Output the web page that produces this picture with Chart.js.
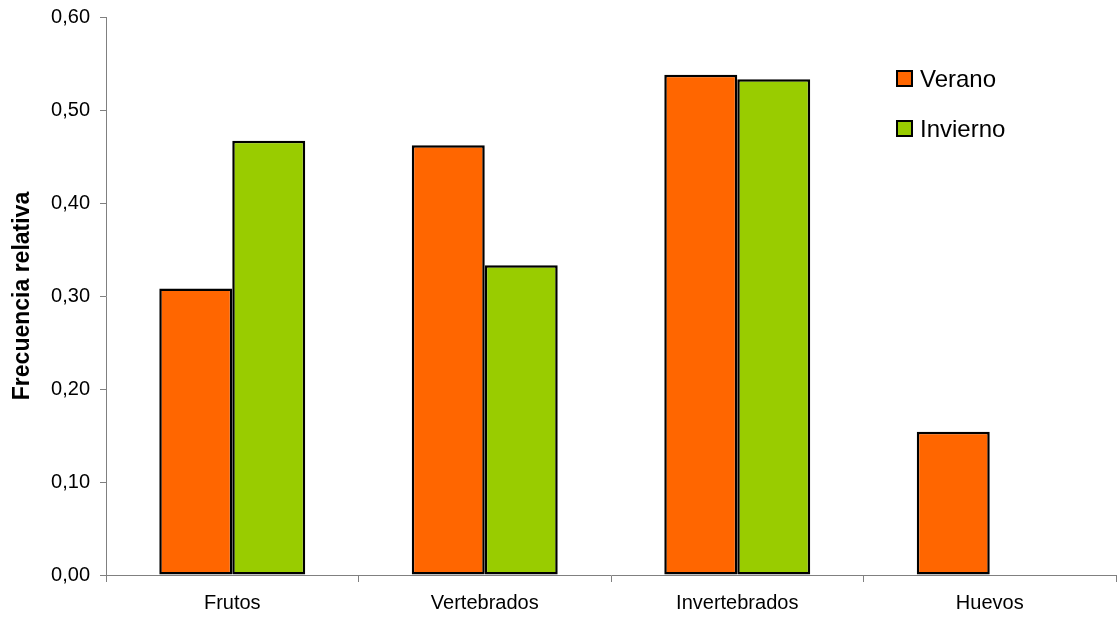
<!DOCTYPE html>
<html>
<head>
<meta charset="utf-8">
<script src="https://cdn.jsdelivr.net/npm/chart.js@4/dist/chart.umd.min.js"></script>
<style>
  html, body { margin: 0; padding: 0; background: #fff; }
  #wrap { position: relative; width: 1117px; height: 618px; }
  #legend { position: absolute; left: 896px; top: 66px; font-family: Arial, "Liberation Sans", sans-serif; font-size: 24px; color: #000; }
  .item { display: flex; align-items: center; height: 25px; margin-bottom: 25px; }
  .box { width: 13px; height: 13px; border: 2px solid #000; margin-right: 7px; }
</style>
</head>
<body>
<div id="wrap">
  <canvas id="c" width="1117" height="618"></canvas>
  <div id="legend"></div>
</div>
<script>
const categories = ['Frutos', 'Vertebrados', 'Invertebrados', 'Huevos'];
const verano = [0.308, 0.462, 0.538, 0.154];
const invierno = [0.467, 0.333, 0.533, null];
const seriesNames = ['Verano', 'Invierno'];
const seriesColors = ['#FF6600', '#99CC00'];

const fmt = v => v.toFixed(2).replace('.', ',');
const axisGrey = '#808080';
const font = 'Arial, "Liberation Sans", sans-serif';

document.getElementById('legend').innerHTML = seriesNames.map((name, i) =>
  `<div class="item"><span class="box" style="background:${seriesColors[i]}"></span>${name}</div>`).join('');

new Chart(document.getElementById('c'), {
  type: 'bar',
  data: {
    labels: categories,
    datasets: [verano, invierno].map((data, i) => ({
      label: seriesNames[i],
      data,
      backgroundColor: seriesColors[i],
      borderColor: '#000',
      borderWidth: 2.5,
      borderSkipped: false,
      categoryPercentage: 0.578,
      barPercentage: 1,
    })),
  },
  options: {
    responsive: false,
    animation: false,
    layout: { padding: { top: 14, right: 1, left: 0, bottom: 0 } },
    plugins: { legend: { display: false }, tooltip: { enabled: false } },
    scales: {
      x: {
        grid: { drawOnChartArea: false, drawTicks: true, tickLength: 7, color: axisGrey },
        border: { color: axisGrey, width: 1 },
        ticks: { color: '#000', font: { family: font, size: 20 }, padding: 9 },
        afterFit: scale => { scale.height = 43; },
      },
      y: {
        min: 0,
        max: 0.6,
        grid: { drawOnChartArea: false, drawTicks: true, tickLength: 6, color: axisGrey },
        border: { color: axisGrey, width: 1 },
        ticks: { stepSize: 0.1, color: '#000', font: { family: font, size: 20, lineHeight: 0.7 }, padding: 10, callback: v => fmt(v) },
        title: { display: true, text: 'Frecuencia relativa', color: '#000', font: { family: font, size: 23, weight: 'bold' }, padding: { top: 9, bottom: 0 } },
        afterFit: scale => { scale.width = 106; },
      },
    },
  },
});
</script>
</body>
</html>
